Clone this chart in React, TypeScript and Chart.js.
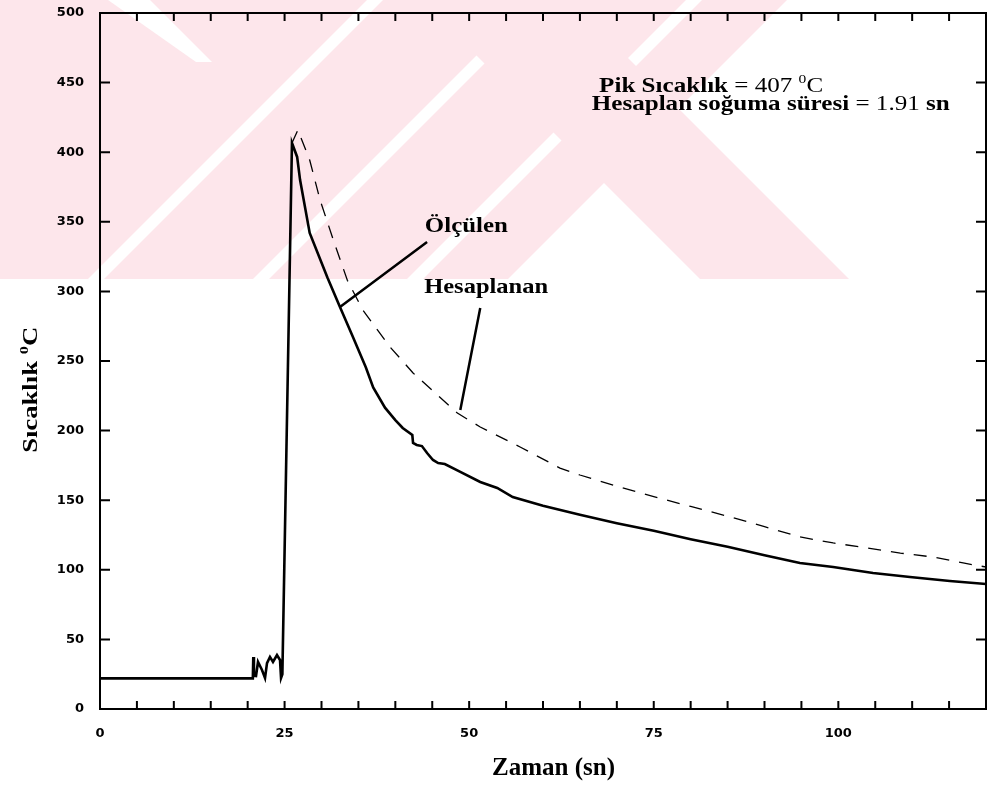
import React, { useEffect, useRef } from "react";
import { Chart, registerables } from "chart.js";

Chart.register(...registerables);

// ---- data ----
const measuredTime = [
  0, 20.7, 20.76, 20.85, 21.13, 21.4, 21.94, 22.35, 22.62, 23.02, 23.43, 23.97, 24.38, 24.52, 24.7,
  26.0, 26.7, 27.1, 28.4, 30.8, 32.5, 34.2, 36.0, 37.0, 38.6, 40.0, 41.0, 42.3, 42.4, 42.9, 43.6, 44.3,
  45.1, 45.8, 46.7, 48.8, 51.5, 53.8, 55.9, 60, 65, 70, 75, 80, 85, 90, 94.8, 99.3, 104.7, 109.7,
  115.1, 120,
];
const measuredTemp = [
  22, 22, 37.4, 24, 23.7, 33.8, 28, 22.3, 33, 37.4, 33.8, 38.8, 35.2, 22.3, 25,
  406.6, 396.6, 380, 342, 310, 288.8, 268, 245.5, 231, 216.5, 207.6, 201.9, 196.8, 191.1, 189.7, 188.9, 183.9,
  178.9, 176.7, 176.0, 170.3, 163.1, 158.8, 152.3, 146, 139.5, 133.5, 128, 122, 116.5, 110.5, 104.9, 102,
  97.7, 94.8, 92, 89.8,
];
const calcTime = [
  26.0, 26.8, 28.4, 29.8, 31.6, 33.5, 35.6, 37.9, 39.3, 42.4, 48.4, 51.5, 56.9, 62.3, 65.0, 70, 75, 80,
  85, 90, 94.8, 99.3, 103.9, 108.4, 112.8, 116.9, 120,
];
const calcTemp = [
  406.6, 416, 394.4, 365.7, 337, 308, 286.6, 270, 260, 241.4, 212.6, 202.6, 188.2, 173.1, 168.1, 160,
  152.5, 145.5, 138.5, 131, 123.6, 119.3, 115.7, 112, 109.2, 104.9, 102,
];
const seriesNames = ["Ölçülen", "Hesaplanan"];
const xLabelValues = [0, 25, 50, 75, 100];
const xRange = [0, 120];
const yRange = [0, 500];

// ---- text annotations ----
const peakText = ["Pik Sıcaklık", " = 407 ", "0", "C"];
const coolText = ["Hesaplan soğuma süresi", " = 1.91 ", "sn"];
const xTitle = "Zaman (sn)";
const yTitle = ["Sıcaklık ", "0", "C"];

const PINK = "#fde6eb";

function drawParts(ctx: CanvasRenderingContext2D, parts: { t: string; f: string; dy: number }[], x: number, y: number, targetW: number, rot = 0) {
  let w = 0;
  for (const p of parts) {
    ctx.font = p.f;
    w += ctx.measureText(p.t).width;
  }
  const sx = targetW / w;
  ctx.save();
  ctx.translate(x, y);
  if (rot) ctx.rotate(rot);
  ctx.scale(sx, 1);
  ctx.fillStyle = "#000";
  ctx.textBaseline = "alphabetic";
  ctx.textAlign = "left";
  let cx = 0;
  for (const p of parts) {
    ctx.font = p.f;
    ctx.fillText(p.t, cx, p.dy);
    cx += ctx.measureText(p.t).width;
  }
  ctx.restore();
}

function poly(ctx: CanvasRenderingContext2D, pts: number[][]) {
  ctx.beginPath();
  ctx.moveTo(pts[0][0], pts[0][1]);
  for (let i = 1; i < pts.length; i++) ctx.lineTo(pts[i][0], pts[i][1]);
  ctx.closePath();
  ctx.fill();
}

const decorPlugin = {
  id: "decor",
  beforeDraw(chart: any) {
    const ctx: CanvasRenderingContext2D = chart.ctx;
    const W = chart.width;
    const H = 279;
    ctx.save();
    ctx.fillStyle = "#fff";
    ctx.fillRect(0, 0, W, chart.height);
    ctx.beginPath();
    ctx.rect(0, 0, W, H);
    ctx.clip();
    ctx.fillStyle = PINK;
    poly(ctx, [[0, 0], [787, 0], [787 - H, H], [0, H]]);
    ctx.fillStyle = "#fff";
    for (const c of [375, 540, 694]) {
      poly(ctx, [[c - 8, 0], [c + 8, 0], [c + 8 - H, H], [c - 8 - H, H]]);
    }
    poly(ctx, [[108, 0], [150, 0], [212, 62], [196, 62]]);
    ctx.fillStyle = PINK;
    poly(ctx, [[421, 0], [570, 0], [570 + H, H], [421 + H, H]]);
    ctx.restore();
  },
  afterDatasetsDraw(chart: any) {
    const ctx: CanvasRenderingContext2D = chart.ctx;
    const xs = chart.scales.x;
    const ys = chart.scales.y;
    const { left, right, top, bottom } = chart.chartArea;
    ctx.save();
    ctx.strokeStyle = "#000";
    ctx.lineWidth = 2;
    ctx.strokeRect(left, top, right - left, bottom - top);
    for (const t of xs.ticks) {
      if (t.value <= xRange[0] || t.value >= xRange[1]) continue;
      const px = xs.getPixelForValue(t.value);
      ctx.beginPath();
      ctx.moveTo(px, bottom);
      ctx.lineTo(px, bottom - 8);
      ctx.moveTo(px, top);
      ctx.lineTo(px, top + 8);
      ctx.stroke();
    }
    for (const t of ys.ticks) {
      if (t.value <= yRange[0] || t.value >= yRange[1]) continue;
      const py = ys.getPixelForValue(t.value);
      ctx.beginPath();
      ctx.moveTo(left, py);
      ctx.lineTo(left + 10, py);
      ctx.moveTo(right, py);
      ctx.lineTo(right - 10, py);
      ctx.stroke();
    }
    // pointer lines
    ctx.lineWidth = 2.5;
    ctx.beginPath();
    ctx.moveTo(xs.getPixelForValue(44.3), ys.getPixelForValue(335.5));
    ctx.lineTo(xs.getPixelForValue(32.5), ys.getPixelForValue(288.8));
    ctx.moveTo(xs.getPixelForValue(51.5), ys.getPixelForValue(288.1));
    ctx.lineTo(xs.getPixelForValue(48.8), ys.getPixelForValue(214.8));
    ctx.stroke();

    const serifB = (s: number) => `bold ${s}px "Liberation Serif", "Times New Roman", serif`;
    const serifR = (s: number) => `${s}px "Liberation Serif", "Times New Roman", serif`;

    drawParts(ctx, [
      { t: peakText[0], f: serifB(21), dy: 0 },
      { t: peakText[1], f: serifR(21), dy: 0 },
      { t: peakText[2], f: serifR(13), dy: -9 },
      { t: peakText[3], f: serifR(21), dy: 0 },
    ], xs.getPixelForValue(67.6), ys.getPixelForValue(443.2), 224);
    drawParts(ctx, [
      { t: coolText[0], f: serifB(22), dy: 0 },
      { t: coolText[1], f: serifR(22), dy: 0 },
      { t: coolText[2], f: serifB(22), dy: 0 },
    ], xs.getPixelForValue(66.6), ys.getPixelForValue(430.3), 358);
    drawParts(ctx, [{ t: seriesNames[0], f: serifB(22), dy: 0 }], xs.getPixelForValue(44.0), ys.getPixelForValue(342.7), 83);
    drawParts(ctx, [{ t: seriesNames[1], f: serifB(22), dy: 0 }], xs.getPixelForValue(43.9), ys.getPixelForValue(298.9), 124);
    // axis titles
    drawParts(ctx, [{ t: xTitle, f: serifB(25), dy: 0 }], xs.getPixelForValue(53.1), bottom + 66, 123);
    drawParts(ctx, [
      { t: yTitle[0], f: serifB(21), dy: 0 },
      { t: yTitle[1], f: serifB(13), dy: -9 },
      { t: yTitle[2], f: serifB(21), dy: 0 },
    ], 37, ys.getPixelForValue(184), 126, -Math.PI / 2);
    ctx.restore();
  },
};

export default function App() {
  const ref = useRef<HTMLCanvasElement | null>(null);
  useEffect(() => {
    if (!ref.current) return;
    const tickFont = { family: '"DejaVu Sans", sans-serif', size: 13, weight: "bold" as const };
    const chart = new Chart(ref.current, {
      type: "line",
      data: {
        datasets: [
          {
            label: seriesNames[0],
            data: measuredTime.map((t, i) => ({ x: t, y: measuredTemp[i] })),
            borderColor: "#000",
            borderWidth: 2.6,
            pointRadius: 0,
            tension: 0,
            fill: false,
          },
          {
            label: seriesNames[1],
            data: calcTime.map((t, i) => ({ x: t, y: calcTemp[i] })),
            borderColor: "#000",
            borderWidth: 1.3,
            borderDash: [13, 10],
            pointRadius: 0,
            tension: 0,
            fill: false,
          },
        ],
      },
      options: {
        animation: false,
        responsive: false,
        maintainAspectRatio: false,
        devicePixelRatio: 1,
        layout: { padding: { top: 13, right: 1, left: 0, bottom: 0 } },
        plugins: { legend: { display: false }, tooltip: { enabled: false }, title: { display: false } },
        scales: {
          x: {
            type: "linear",
            min: xRange[0],
            max: xRange[1],
            grid: { display: false },
            border: { display: false },
            ticks: {
              stepSize: 5,
              autoSkip: false,
              maxRotation: 0,
              color: "#000",
              font: tickFont,
              padding: 9,
              callback: (v: any) => (xLabelValues.includes(Number(v)) ? String(v) : ""),
            },
            afterFit: (s: any) => {
              s.height = 76;
              s.paddingLeft = 0;
              s.paddingRight = 0;
            },
          },
          y: {
            type: "linear",
            min: yRange[0],
            max: yRange[1],
            grid: { display: false },
            border: { display: false },
            ticks: { stepSize: 50, color: "#000", font: tickFont, padding: 8 },
            afterFit: (s: any) => {
              s.width = 100;
              s.paddingTop = 0;
              s.paddingBottom = 0;
            },
          },
        },
      },
      plugins: [decorPlugin],
    });
    return () => chart.destroy();
  }, []);
  return (
    <div style={{ position: "fixed", left: 0, top: 0, width: 987, height: 785, background: "#fff" }}>
      <canvas ref={ref} width={987} height={785} style={{ display: "block", width: 987, height: 785 }} />
    </div>
  );
}
